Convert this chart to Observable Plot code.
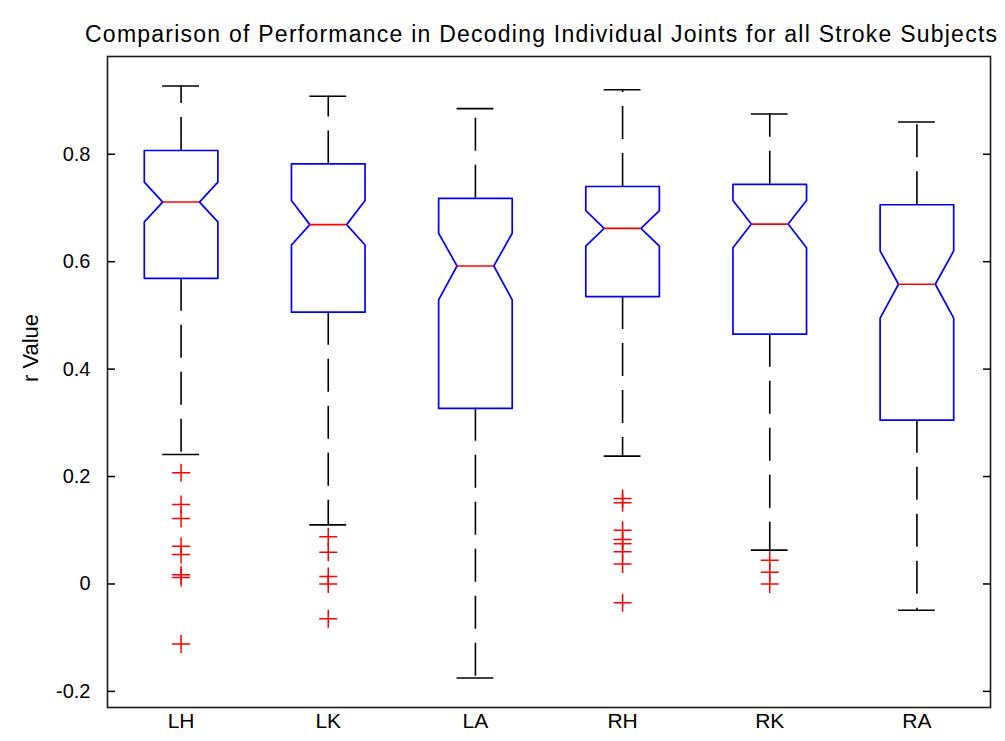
<!DOCTYPE html>
<html>
<head>
<meta charset="utf-8">
<script src="https://cdn.jsdelivr.net/npm/d3@7"></script>
<script src="https://cdn.jsdelivr.net/npm/@observablehq/plot@0.6"></script>
<style>
  html, body { margin: 0; padding: 0; background: #fff; }
</style>
</head>
<body>
<div id="chart"></div>
<script>
const titleText = "Comparison of Performance in Decoding Individual Joints for all Stroke Subjects";
const yLabel = "r Value";
const categories = ["LH", "LK", "LA", "RH", "RK", "RA"];
const yTicks = [-0.2, 0, 0.2, 0.4, 0.6, 0.8];

const whiskerHigh = [0.927, 0.908, 0.885, 0.920, 0.875, 0.860];
const q3          = [0.807, 0.782, 0.718, 0.740, 0.744, 0.706];
const notchHigh   = [0.748, 0.714, 0.653, 0.695, 0.714, 0.620];
const medians     = [0.711, 0.669, 0.592, 0.662, 0.670, 0.558];
const notchLow    = [0.674, 0.631, 0.529, 0.629, 0.626, 0.495];
const q1          = [0.569, 0.506, 0.327, 0.535, 0.465, 0.305];
const whiskerLow  = [0.241, 0.110, -0.175, 0.238, 0.063, -0.049];

const outliersLH = [0.207, 0.148, 0.122, 0.070, 0.055, 0.017, 0.012, -0.112];
const outliersLK = [0.088, 0.059, 0.014, 0.000, -0.065];
const outliersLA = [];
const outliersRH = [0.159, 0.151, 0.100, 0.083, 0.075, 0.060, 0.037, -0.035];
const outliersRK = [0.044, 0.022, 0.000];
const outliersRA = [];
const outlierLists = [outliersLH, outliersLK, outliersLA, outliersRH, outliersRK, outliersRA];

const yDomain = [-0.230, 0.982];

// derived tables
const idx = categories.map((_, i) => i);
const pos = i => i + 1;
const HW = 0.25, NW = 0.125;

const boxPts = [];
idx.forEach(i => {
  const c = pos(i);
  const pts = [
    [c - HW, q1[i]], [c - HW, notchLow[i]], [c - NW, medians[i]], [c - HW, notchHigh[i]],
    [c - HW, q3[i]], [c + HW, q3[i]], [c + HW, notchHigh[i]], [c + NW, medians[i]],
    [c + HW, notchLow[i]], [c + HW, q1[i]], [c - HW, q1[i]]
  ];
  pts.forEach(([x, y]) => boxPts.push({box: i, x, y}));
});

const outRows = [];
outlierLists.forEach((list, i) => list.forEach(v => outRows.push({x: pos(i), y: v})));

const plusSymbol = {
  draw(context, size) {
    const r = Math.sqrt(size / Math.PI);
    context.moveTo(-r, 0); context.lineTo(r, 0);
    context.moveTo(0, -r); context.lineTo(0, r);
  }
};

const fmt = d => String(d);
const blue = "#0000ff", red = "#ff0000", black = "#000000";

const chart = Plot.plot({
  width: 1005,
  height: 741,
  marginTop: 56,
  marginBottom: 34,
  marginLeft: 107,
  marginRight: 15,
  style: {fontFamily: "'Liberation Sans', Arial, sans-serif", fontSize: "20px", color: "#000", background: "#fff"},
  x: {domain: [0.5, 6.5]},
  y: {domain: yDomain},
  marks: [
    Plot.frame({stroke: "#1a1a1a", strokeWidth: 1.6}),
    Plot.axisY(yTicks, {anchor: "left", tickSize: -8, tickPadding: 25, tickFormat: fmt, label: null, strokeWidth: 1.5, fontSize: 20}),
    Plot.axisY(yTicks, {anchor: "right", tickSize: -8, tickFormat: () => "", label: null, strokeWidth: 1.5}),
    Plot.axisX(idx.map(pos), {anchor: "bottom", tickSize: 0, tickPadding: 6, tickFormat: d => categories[d - 1], label: null, fontSize: 21}),
    Plot.text([yLabel], {frameAnchor: "left", rotate: -90, dx: -77, fontSize: 22, fill: black}),
    Plot.text([titleText], {frameAnchor: "top", dy: -31, dx: -8, fontSize: 23, fill: black, className: "chart-title"}),
    // whiskers (dashed), start at the box edge
    Plot.ruleX(idx, {x: pos, y1: i => q3[i], y2: i => whiskerHigh[i], stroke: black, strokeWidth: 1.6, strokeDasharray: "33,14"}),
    Plot.ruleX(idx, {x: pos, y1: i => q1[i], y2: i => whiskerLow[i], stroke: black, strokeWidth: 1.6, strokeDasharray: "33,14"}),
    // whisker caps
    Plot.ruleY(idx, {y: i => whiskerHigh[i], x1: i => pos(i) - NW, x2: i => pos(i) + NW, stroke: black, strokeWidth: 1.6}),
    Plot.ruleY(idx, {y: i => whiskerLow[i], x1: i => pos(i) - NW, x2: i => pos(i) + NW, stroke: black, strokeWidth: 1.6}),
    // notched boxes
    Plot.line(boxPts, {x: "x", y: "y", z: "box", stroke: blue, strokeWidth: 1.7, curve: "linear"}),
    // medians
    Plot.ruleY(idx, {y: i => medians[i], x1: i => pos(i) - NW, x2: i => pos(i) + NW, stroke: red, strokeWidth: 1.6}),
    // outliers
    Plot.dot(outRows, {x: "x", y: "y", symbol: plusSymbol, r: 9, stroke: red, fill: "none", strokeWidth: 1.5})
  ]
});

d3.select(chart).selectAll(".chart-title text")
  .attr("textLength", 912)
  .attr("lengthAdjust", "spacing");

document.getElementById("chart").appendChild(chart);
</script>
</body>
</html>
